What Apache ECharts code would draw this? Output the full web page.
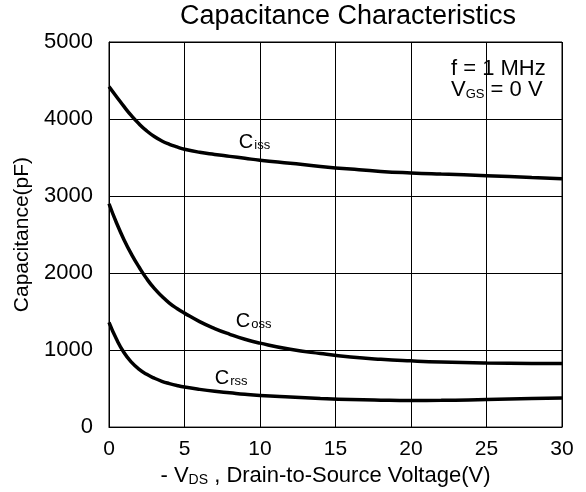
<!DOCTYPE html>
<html>
<head>
<meta charset="utf-8">
<script src="https://cdn.jsdelivr.net/npm/echarts@6/dist/echarts.min.js"></script>
<style>html,body{margin:0;padding:0;background:#fff}#c{width:586px;height:492px}</style>
</head>
<body>
<div id="c"></div>
<script>
var voltage = [0, 0.5, 1, 1.5, 2, 2.5, 3, 3.5, 4, 4.5, 5, 6, 7, 8, 9, 10, 12, 14, 16, 18, 20, 22, 25, 28, 30];
var ciss = [4420, 4290, 4160, 4040, 3935, 3845, 3772, 3715, 3672, 3638, 3608, 3568, 3540, 3515, 3490, 3465, 3425, 3385, 3350, 3320, 3300, 3285, 3265, 3240, 3225];
var coss = [2900, 2650, 2430, 2240, 2075, 1925, 1800, 1700, 1610, 1540, 1480, 1370, 1280, 1205, 1140, 1090, 1010, 955, 910, 880, 860, 845, 832, 826, 825];
var crss = [1360, 1140, 965, 840, 750, 685, 635, 595, 565, 540, 520, 490, 465, 445, 425, 410, 390, 372, 358, 350, 346, 347, 358, 370, 378];
var xTicks = [0, 5, 10, 15, 20, 25, 30];
var yTicks = [0, 1000, 2000, 3000, 4000, 5000];
var curveLabels = [
  { sub: 'iss', v: 8.6, c: 3690 },
  { sub: 'oss', v: 8.4, c: 1370 },
  { sub: 'rss', v: 7.0, c: 625 }
];

function pairs(ys) { return voltage.map(function (v, i) { return [v, ys[i]]; }); }

var FONT = 'Liberation Sans, Arial, sans-serif';

var chart = echarts.init(document.getElementById('c'), null, { renderer: 'canvas' });
chart.setOption({
  animation: false,
  backgroundColor: '#fff',
  grid: { left: 109, right: 24, top: 42, bottom: 62, show: true, borderColor: '#000', borderWidth: 1 },
  xAxis: {
    type: 'value', min: 0, max: 30, interval: 5,
    name: '- V{s|DS} , Drain-to-Source Voltage(V)',
    nameLocation: 'middle', nameGap: 36,
    nameTextStyle: {
      fontFamily: FONT, fontSize: 22, color: '#000', padding: [0, 20, 0, 0],
      rich: { s: { fontFamily: FONT, fontSize: 14, color: '#000', verticalAlign: 'bottom' } }
    },
    axisLine: { lineStyle: { color: '#000', width: 1 } },
    axisTick: { show: false },
    splitLine: { show: true, lineStyle: { color: '#000', width: 1 } },
    axisLabel: {
      fontFamily: FONT, fontSize: 21, color: '#000', margin: 12,
      formatter: function (v) { return xTicks.indexOf(v) >= 0 ? String(v) : ''; }
    }
  },
  yAxis: {
    type: 'value', min: 0, max: 5000, interval: 1000,
    name: 'Capacitance(pF)', nameLocation: 'middle', nameGap: 76,
    nameTextStyle: { fontFamily: FONT, fontSize: 21, color: '#000' },
    axisLine: { lineStyle: { color: '#000', width: 1 } },
    axisTick: { show: false },
    splitLine: { show: true, lineStyle: { color: '#000', width: 1 } },
    axisLabel: {
      fontFamily: FONT, fontSize: 22, color: '#000', margin: 16,
      formatter: function (v) { return yTicks.indexOf(v) >= 0 ? String(v) : ''; }
    }
  },
  series: [
    { name: 'Ciss', type: 'line', data: pairs(ciss), smooth: 0.5, showSymbol: false,
      lineStyle: { color: '#000', width: 3.5 } },
    { name: 'Coss', type: 'line', data: pairs(coss), smooth: 0.5, showSymbol: false,
      lineStyle: { color: '#000', width: 3.5 } },
    { name: 'Crss', type: 'line', data: pairs(crss), smooth: 0.5, showSymbol: false,
      lineStyle: { color: '#000', width: 3.5 } }
  ]
});

var g = [
  { type: 'text', x: 348, y: 17, style: { text: 'Capacitance Characteristics', fontFamily: FONT, fontSize: 27, fill: '#000', align: 'center', verticalAlign: 'middle' } },
  { type: 'text', x: 451, y: 69, style: { text: 'f = 1 MHz', fontFamily: FONT, fontSize: 22, fill: '#000', align: 'left', verticalAlign: 'middle' } },
  { type: 'text', x: 451, y: 90, style: {
      text: '{v|V}{s|GS}{v| = 0 V}', align: 'left', verticalAlign: 'middle',
      rich: {
        v: { fontFamily: FONT, fontSize: 22, fill: '#000', verticalAlign: 'bottom' },
        s: { fontFamily: FONT, fontSize: 13, fill: '#000', verticalAlign: 'bottom' }
      }
    } }
];
curveLabels.forEach(function (l) {
  var p = chart.convertToPixel({ gridIndex: 0 }, [l.v, l.c]);
  g.push({ type: 'text', x: p[0], y: p[1], style: {
    text: '{c|C}{s|' + l.sub + '}', align: 'left', verticalAlign: 'middle',
    rich: {
      c: { fontFamily: FONT, fontSize: 20, fill: '#000', verticalAlign: 'bottom' },
      s: { fontFamily: FONT, fontSize: 13, fill: '#000', verticalAlign: 'bottom', padding: [0, 0, 1, 1] }
    }
  } });
});
chart.setOption({ graphic: g });
</script>
</body>
</html>
